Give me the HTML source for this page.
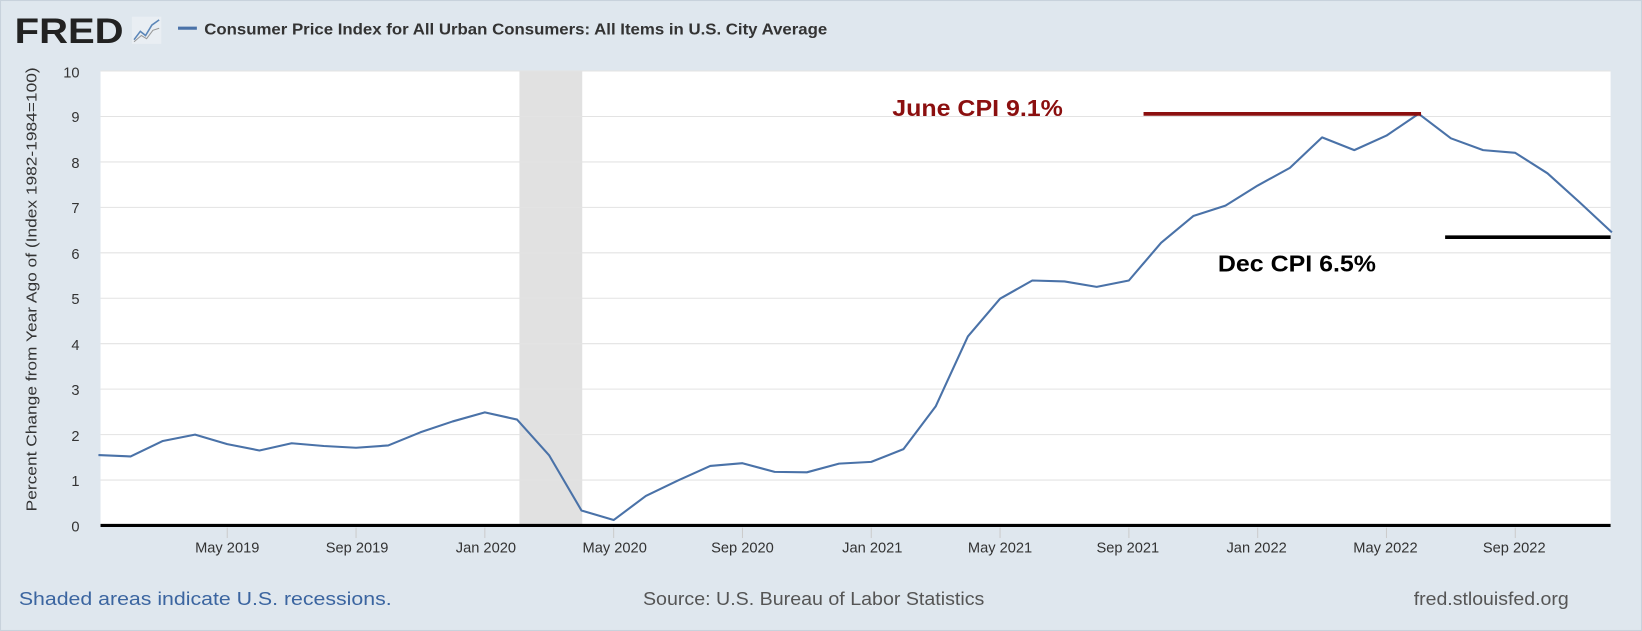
<!DOCTYPE html>
<html><head><meta charset="utf-8"><style>
html,body{margin:0;padding:0;background:#dfe7ee;}
svg{display:block;}
</style></head><body>
<svg width="1642" height="631" viewBox="0 0 1568 604" preserveAspectRatio="none" xmlns="http://www.w3.org/2000/svg">
<rect x="0" y="0" width="1568" height="604" fill="#dfe7ee"/>
<rect x="0.5" y="0.5" width="1567" height="603" fill="none" stroke="#c8d2dc"/>
<text x="14" y="41" font-family="Liberation Sans, sans-serif" font-size="34" font-weight="bold" fill="#222" textLength="104" lengthAdjust="spacingAndGlyphs">FRED</text>
<rect x="126" y="16" width="28" height="26" fill="#e9eef3"/>
<polyline points="128,38 134,30 139,34 145,24 152,19" fill="none" stroke="#5b86b8" stroke-width="1.5"/>
<polyline points="128,40 135,34 140,37 146,29 152,27" fill="none" stroke="#999" stroke-width="1"/>
<line x1="170" y1="27" x2="188" y2="27" stroke="#4a72a8" stroke-width="3"/>
<text x="195" y="33" font-family="Liberation Sans, sans-serif" font-size="15" font-weight="bold" fill="#333" textLength="595" lengthAdjust="spacingAndGlyphs">Consumer Price Index for All Urban Consumers: All Items in U.S. City Average</text>
<rect x="96" y="68" width="1442" height="435" fill="#fff"/>
<rect x="496" y="68" width="60" height="435" fill="#e1e1e1"/>
<g stroke="#e3e3e3" stroke-width="1">
<line x1="96" y1="68" x2="1538" y2="68"/><line x1="96" y1="111.5" x2="1538" y2="111.5"/><line x1="96" y1="155" x2="1538" y2="155"/><line x1="96" y1="198.5" x2="1538" y2="198.5"/><line x1="96" y1="242" x2="1538" y2="242"/><line x1="96" y1="285.5" x2="1538" y2="285.5"/><line x1="96" y1="329" x2="1538" y2="329"/><line x1="96" y1="372.5" x2="1538" y2="372.5"/><line x1="96" y1="416" x2="1538" y2="416"/><line x1="96" y1="459.5" x2="1538" y2="459.5"/>
</g>
<g font-family="Liberation Sans, sans-serif" font-size="14" fill="#333" text-anchor="end">
<text x="76" y="74">10</text><text x="76" y="117">9</text><text x="76" y="161">8</text><text x="76" y="204">7</text><text x="76" y="248">6</text><text x="76" y="291">5</text><text x="76" y="335">4</text><text x="76" y="378">3</text><text x="76" y="422">2</text><text x="76" y="465">1</text><text x="76" y="509">0</text>
</g>
<text transform="translate(35,277) rotate(-90)" font-family="Liberation Sans, sans-serif" font-size="14" fill="#333" text-anchor="middle" textLength="425" lengthAdjust="spacingAndGlyphs">Percent Change from Year Ago of (Index 1982-1984=100)</text>
<line x1="96" y1="503" x2="1538" y2="503" stroke="#000" stroke-width="3"/>
<g stroke="#ccc" stroke-width="1">
<line x1="217" y1="505" x2="217" y2="515"/><line x1="340" y1="505" x2="340" y2="515"/><line x1="463" y1="505" x2="463" y2="515"/><line x1="586" y1="505" x2="586" y2="515"/><line x1="709" y1="505" x2="709" y2="515"/><line x1="832" y1="505" x2="832" y2="515"/><line x1="955" y1="505" x2="955" y2="515"/><line x1="1078" y1="505" x2="1078" y2="515"/><line x1="1201" y1="505" x2="1201" y2="515"/><line x1="1324" y1="505" x2="1324" y2="515"/><line x1="1447" y1="505" x2="1447" y2="515"/>
</g>
<g font-family="Liberation Sans, sans-serif" font-size="14" fill="#333" text-anchor="middle">
<text x="217" y="529">May 2019</text><text x="341" y="529">Sep 2019</text><text x="464" y="529">Jan 2020</text><text x="587" y="529">May 2020</text><text x="709" y="529">Sep 2020</text><text x="833" y="529">Jan 2021</text><text x="955" y="529">May 2021</text><text x="1077" y="529">Sep 2021</text><text x="1200" y="529">Jan 2022</text><text x="1323" y="529">May 2022</text><text x="1446" y="529">Sep 2022</text>
</g>
<polyline fill="none" stroke="#4a72a8" stroke-width="2" stroke-linejoin="round" points="94,435.6 124.75,436.9 155.5,422.1 186.25,416 217,425.1 247.75,431.2 278.5,424.3 309.25,426.9 340,428.6 370.75,426.4 401.5,413.8 432.25,403.4 463,394.7 493.75,401.6 524.5,436 555.25,488.6 586,497.8 616.75,474.7 647.5,459.9 678.25,446 709,443.4 739.75,451.7 770.5,452.1 801.25,443.8 832,442.1 862.75,429.9 893.5,389 924.25,322 955,285.9 985.75,268.5 1016.5,269.4 1047.25,274.6 1078,268.5 1108.75,232.4 1139.5,206.8 1170.25,196.8 1201,177.6 1231.75,160.7 1262.5,131.5 1293.25,143.7 1324,129.8 1354.75,108.9 1385.5,132.4 1416.25,143.7 1447,146.3 1477.75,165.9 1508.5,193.7 1539.25,222.4"/>
<line x1="1092" y1="109" x2="1357" y2="109" stroke="#8b0f0f" stroke-width="3.5"/>
<text x="852" y="111" font-family="Liberation Sans, sans-serif" font-size="22" font-weight="bold" fill="#8b0f0f" textLength="163" lengthAdjust="spacingAndGlyphs">June CPI 9.1%</text>
<line x1="1380" y1="227" x2="1538" y2="227" stroke="#000" stroke-width="3.5"/>
<text x="1163" y="260" font-family="Liberation Sans, sans-serif" font-size="22" font-weight="bold" fill="#000" textLength="151" lengthAdjust="spacingAndGlyphs">Dec CPI 6.5%</text>
<text x="18" y="579" font-family="Liberation Sans, sans-serif" font-size="18" fill="#3b65a0" textLength="356" lengthAdjust="spacingAndGlyphs">Shaded areas indicate U.S. recessions.</text>
<text x="614" y="579" font-family="Liberation Sans, sans-serif" font-size="18" fill="#555" textLength="326" lengthAdjust="spacingAndGlyphs">Source: U.S. Bureau of Labor Statistics</text>
<text x="1350" y="579" font-family="Liberation Sans, sans-serif" font-size="18" fill="#555" textLength="148" lengthAdjust="spacingAndGlyphs">fred.stlouisfed.org</text>
</svg>
</body></html>
